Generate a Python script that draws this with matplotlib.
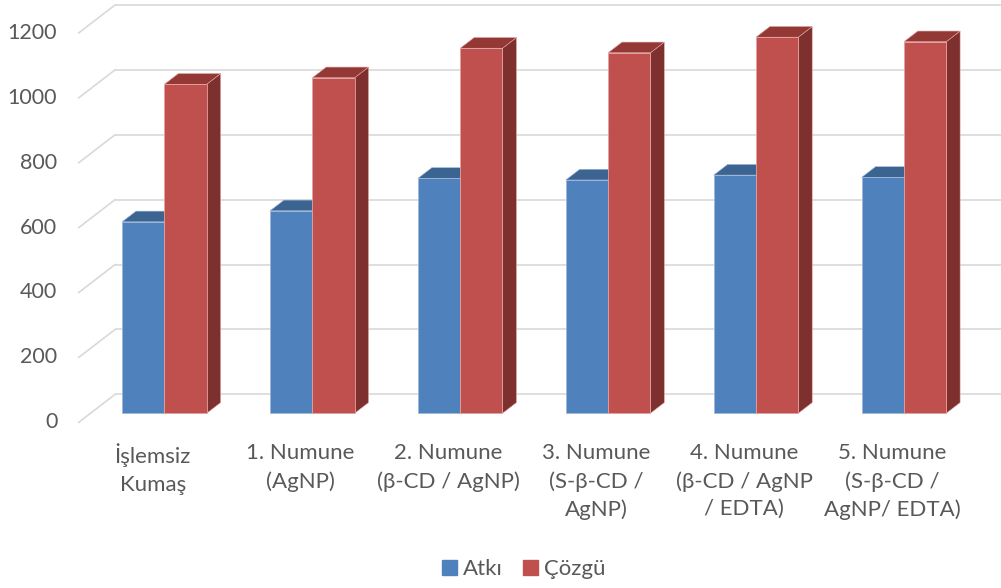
import matplotlib
matplotlib.use("Agg")
import matplotlib.pyplot as plt
from matplotlib.patches import Polygon

# --- data -----------------------------------------------------------------
categories = [
    "İşlemsiz\nKumaş",
    "1. Numune\n(AgNP)",
    "2. Numune\n(β-CD / AgNP)",
    "3. Numune\n(S-β-CD /\nAgNP)",
    "4. Numune\n(β-CD / AgNP\n/ EDTA)",
    "5. Numune\n(S-β-CD /\nAgNP/ EDTA)",
]
atki = [590, 624, 724, 719, 734, 727]
cozgu = [1014, 1034, 1125, 1111, 1159, 1145]
series_names = ["Atkı", "Çözgü"]
y_ticks = [0, 200, 400, 600, 800, 1000, 1200]

# --- styling --------------------------------------------------------------
W, H, DPI = 1001, 588, 100
TEXT = "#595959"
GRID = "#D9D9D9"
BLUE = dict(front="#4F81BD", top="#3C6491", side="#385D8A", edge="#9DB7DA")
RED = dict(front="#C0504D", top="#943835", side="#7D302E", edge="#E2A3A1")
FONT = "Lato"

# pixel geometry of the oblique projection
PX_PER_CAT = 147.9          # horizontal pixels per category
PX_PER_UNIT = 64.9 / 200    # vertical pixels per value unit
SLANT = 1.3                 # horizontal px per vertical px of depth
BAR_W = 0.286               # bar width in category units
BAR_DEPTH = 10.7            # px
BACK_DEPTH = 19.0           # px behind the bar face
FRONT_DEPTH = 9.0           # px in front of the bar face


def depth(px):
    """Offset (dx in categories, dy in value units) for moving px back."""
    return px * SLANT / PX_PER_CAT, px / PX_PER_UNIT


fig = plt.figure(figsize=(W / DPI, H / DPI), dpi=DPI)
ax = fig.add_axes([0, 0, 1, 1])
x0_px, y0_px = 164.4, 413.3
ax.set_xlim(-x0_px / PX_PER_CAT, (W - x0_px) / PX_PER_CAT)
ax.set_ylim((y0_px - H) / PX_PER_UNIT, y0_px / PX_PER_UNIT)
ax.axis("off")

n = len(categories)
bdx, bdy = depth(BACK_DEPTH)
fdx, fdy = depth(-FRONT_DEPTH)
wall_left = -0.5 + bdx
front_left = -0.5 + fdx

# back wall gridlines with their slanted side-wall segments
for v in y_ticks:
    ax.plot([wall_left, n - 0.5 + bdx + 1], [v + bdy, v + bdy],
            color=GRID, lw=1.2, zorder=1, solid_capstyle="butt")
    ax.plot([front_left, wall_left], [v + fdy, v + bdy],
            color=GRID, lw=1.2, zorder=1)
    ax.text(front_left - 21.5 / PX_PER_CAT, v + fdy, f"{v}",
            ha="right", va="center", fontsize=15.5, color=TEXT,
            family=FONT)

# 3D columns
ddx, ddy = depth(BAR_DEPTH)


def column(x, h, st, z):
    ax.bar(x, h, width=BAR_W, align="edge", color=st["front"],
           edgecolor=st["edge"], linewidth=0.6, zorder=z)
    top = [(x, h), (x + BAR_W, h), (x + BAR_W + ddx, h + ddy), (x + ddx, h + ddy)]
    side = [(x + BAR_W, 0), (x + BAR_W + ddx, ddy),
            (x + BAR_W + ddx, h + ddy), (x + BAR_W, h)]
    ax.add_patch(Polygon(side, closed=True, facecolor=st["side"],
                         edgecolor=st["edge"], lw=0.4, zorder=z - 0.5))
    ax.add_patch(Polygon(top, closed=True, facecolor=st["top"],
                         edgecolor=st["edge"], lw=0.4, zorder=z - 0.5))


for i in range(n):
    column(i - BAR_W, atki[i], BLUE, 3)
    column(i, cozgu[i], RED, 5)

# category labels
for i, lab in enumerate(categories):
    ax.text(i + fdx, -93, lab, ha="center", va="top",
            fontsize=16, color=TEXT, family=FONT, linespacing=1.46)

# legend
handles = [plt.Rectangle((0, 0), 1, 1, color=BLUE["front"]),
           plt.Rectangle((0, 0), 1, 1, color=RED["front"])]
fig.legend(handles, series_names, loc="center", bbox_to_anchor=(524 / W, 1 - 569 / H),
           ncol=2, frameon=False, handlelength=0.65, handleheight=0.65,
           handletextpad=0.3, columnspacing=0.9,
           prop=dict(family=FONT, size=16), labelcolor=TEXT)

fig.savefig("out.png", dpi=DPI)
